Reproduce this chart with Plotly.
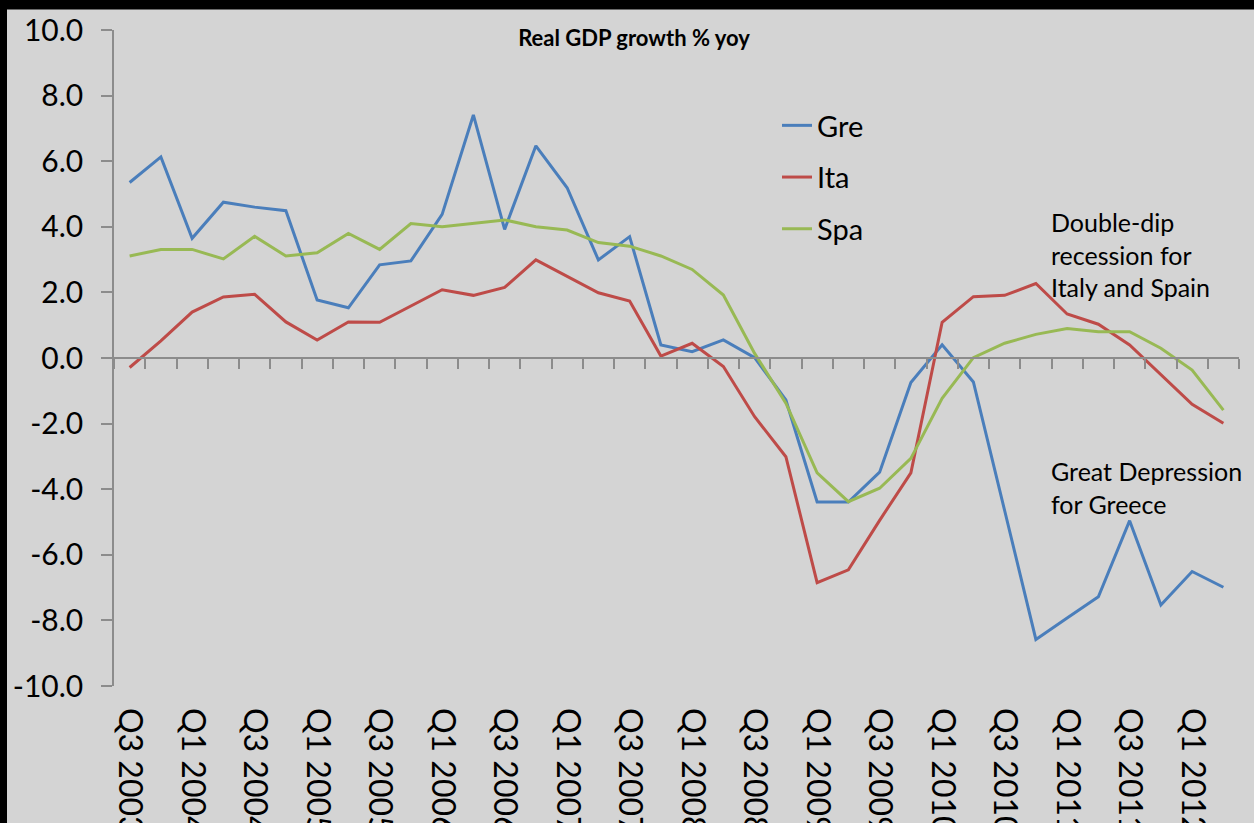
import plotly.graph_objects as go

quarters = [
    "Q3 2003", "Q4 2003", "Q1 2004", "Q2 2004", "Q3 2004", "Q4 2004",
    "Q1 2005", "Q2 2005", "Q3 2005", "Q4 2005", "Q1 2006", "Q2 2006",
    "Q3 2006", "Q4 2006", "Q1 2007", "Q2 2007", "Q3 2007", "Q4 2007",
    "Q1 2008", "Q2 2008", "Q3 2008", "Q4 2008", "Q1 2009", "Q2 2009",
    "Q3 2009", "Q4 2009", "Q1 2010", "Q2 2010", "Q3 2010", "Q4 2010",
    "Q1 2011", "Q2 2011", "Q3 2011", "Q4 2011", "Q1 2012", "Q2 2012",
]
gre = [5.35, 6.13, 3.65, 4.75, 4.60, 4.49, 1.77, 1.53, 2.84, 2.96,
       4.38, 7.41, 3.92, 6.47, 5.19, 2.99, 3.70, 0.40, 0.19, 0.55,
       0.01, -1.28, -4.39, -4.39, -3.48, -0.75, 0.40, -0.73, -4.65, -8.58,
       -7.93, -7.28, -4.96, -7.53, -6.51, -6.99]
ita = [-0.29, 0.52, 1.40, 1.86, 1.94, 1.10, 0.55, 1.10, 1.09, 1.58,
       2.08, 1.91, 2.15, 2.99, 2.48, 1.99, 1.74, 0.06, 0.45, -0.26,
       -1.79, -3.01, -6.85, -6.46, -4.95, -3.50, 1.09, 1.87, 1.91, 2.27,
       1.34, 1.03, 0.40, -0.52, -1.41, -1.99]
spa = [3.11, 3.31, 3.31, 3.02, 3.71, 3.11, 3.21, 3.80, 3.31, 4.10,
       4.00, 4.10, 4.21, 4.00, 3.90, 3.52, 3.41, 3.11, 2.70, 1.92,
       0.14, -1.38, -3.50, -4.38, -3.97, -3.06, -1.23, 0.01, 0.45, 0.72,
       0.90, 0.80, 0.80, 0.30, -0.37, -1.59]
series_names = ["Gre", "Ita", "Spa"]
series_colors = ["#4A7EBB", "#BE4B48", "#98B954"]
y_tickvals = [-10, -8, -6, -4, -2, 0, 2, 4, 6, 8, 10]
y_ticktext = ["-10.0", "-8.0", "-6.0", "-4.0", "-2.0", "0.0",
              "2.0", "4.0", "6.0", "8.0", "10.0"]

W, H = 1254, 823
L, R, T, B = 114, 15, 30, 137
PW, PH = W - L - R, H - T - B
FONT = "Lato, 'Open Sans', sans-serif"

def sx(p):
    """screen x pixel -> paper fraction"""
    return (p - L) / PW

def sy(p):
    """screen y pixel -> paper fraction"""
    return 1 - (p - T) / PH

idx = list(range(len(quarters)))

fig = go.Figure()
for name, vals, col in zip(series_names, [gre, ita, spa], series_colors):
    fig.add_trace(go.Scatter(
        x=idx, y=vals, mode="lines", name=name, legendgroup=name,
        line=dict(color=col, width=3), xaxis="x", yaxis="y"))

# dummy trace to carry the zero-crossing category axis
fig.add_trace(go.Scatter(x=[0], y=[None], xaxis="x2", yaxis="y",
                         showlegend=False, hoverinfo="skip", mode="lines"))

axis_gray = "#8C8C8C"
fig.update_layout(
    width=W, height=H,
    margin=dict(l=L, r=R, t=T, b=B, autoexpand=False),
    paper_bgcolor="#D4D4D4", plot_bgcolor="#D4D4D4",
    font=dict(family=FONT, color="black"),
    title=dict(text="<b>Real GDP growth % yoy</b>", font=dict(size=22, family=FONT),
               x=634 / W, xref="container", xanchor="center",
               y=1 - 38 / H, yref="container", yanchor="middle"),
    xaxis=dict(range=[-0.5, len(quarters) - 0.5], tickmode="array",
               tickvals=idx[::2], ticktext=quarters[::2], tickangle=90,
               ticks="", showline=False, showgrid=False, zeroline=False,
               tickfont=dict(size=32, family=FONT), automargin=False,
               ticklabelstandoff=21),
    xaxis2=dict(overlaying="x", anchor="free", position=0.5,
                range=[-0.5, len(quarters) - 0.5], tickmode="array",
                tickvals=[i - 0.5 for i in range(len(quarters) + 1)],
                showticklabels=False, ticks="outside", ticklen=10,
                tickcolor=axis_gray, tickwidth=1.5, showline=True,
                linecolor=axis_gray, linewidth=1.5, showgrid=False,
                zeroline=False),
    yaxis=dict(range=[-10, 10], tickmode="array",
               tickvals=y_tickvals, ticktext=y_ticktext,
               ticks="outside", ticklen=11,
               tickcolor=axis_gray, tickwidth=1.5, showline=True,
               linecolor=axis_gray, linewidth=1.5, showgrid=False,
               zeroline=False, tickfont=dict(size=30, family=FONT),
               automargin=False, ticklabelstandoff=12),
    showlegend=True,
    legend=dict(x=sx(777), y=sy(100), xanchor="left", yanchor="top",
                bgcolor="rgba(0,0,0,0)", font=dict(size=29, family=FONT),
                tracegroupgap=11, itemwidth=30),
    shapes=[
        dict(type="rect", xref="paper", yref="paper",
             x0=sx(0), x1=sx(W), y0=sy(0), y1=sy(9.5),
             fillcolor="black", line=dict(width=0), layer="above"),
        dict(type="rect", xref="paper", yref="paper",
             x0=sx(0), x1=sx(7), y0=sy(0), y1=sy(H),
             fillcolor="black", line=dict(width=0), layer="above"),
    ],
    annotations=[
        dict(text="Double-dip<br>recession for<br>Italy and Spain",
             xref="paper", yref="paper", x=sx(1049), y=sy(205),
             xanchor="left", yanchor="top", align="left", showarrow=False,
             font=dict(size=25, family=FONT, color="black")),
        dict(text="Great Depression<br>for Greece",
             xref="paper", yref="paper", x=sx(1049), y=sy(454),
             xanchor="left", yanchor="top", align="left", showarrow=False,
             font=dict(size=25, family=FONT, color="black")),
    ],
)

fig.write_html(
    "out.html",
    config={"displayModeBar": False},
    post_script="document.body.style.margin='0';"
                "document.body.style.background='black';",
)
